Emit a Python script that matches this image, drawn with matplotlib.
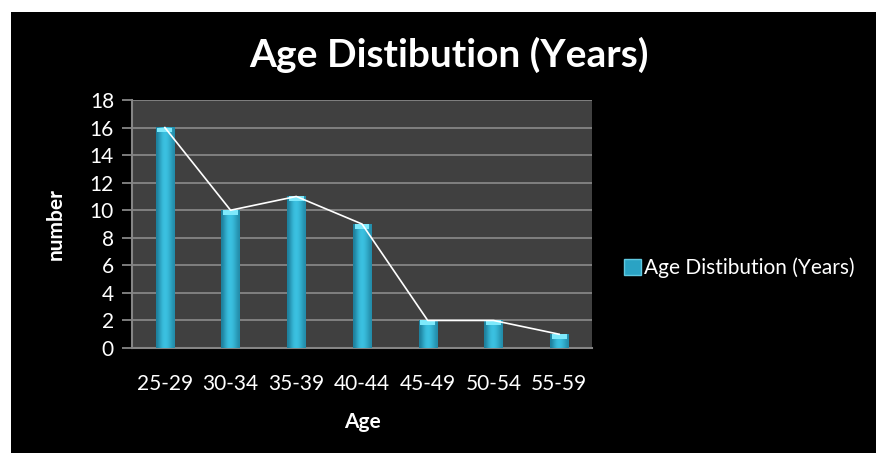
import numpy as np
import matplotlib.pyplot as plt
from matplotlib.colors import LinearSegmentedColormap
from matplotlib.patches import Rectangle, Patch

# Data
age_groups = ['25-29', '30-34', '35-39', '40-44', '45-49', '50-54', '55-59']
counts = [16, 10, 11, 9, 2, 2, 1]
y_ticks = [0, 2, 4, 6, 8, 10, 12, 14, 16, 18]

plt.rcParams['font.family'] = ['Lato', 'DejaVu Sans']

fig = plt.figure(figsize=(8.76, 4.53), dpi=100, facecolor='white')
# black chart area with thin white margin at top and left
fig.patches.append(Rectangle((11 / 876, 0), 1, 1 - 12 / 453,
                             transform=fig.transFigure, facecolor='black',
                             edgecolor='none', zorder=-10))

ax = fig.add_axes([132 / 876, 1 - 348 / 453, 460 / 876, 248 / 453])
ax.set_facecolor('#404040')

x = np.arange(len(age_groups))
bars = ax.bar(x, counts, width=0.28, color='#2aa3c4', zorder=3)

# horizontal gradient inside each bar, plus a light cap on top
cmap = LinearSegmentedColormap.from_list('c', ['#1d7f9c', '#3cc3e3'])
grad = np.array([[0.0, 0.5, 0.9, 1.0, 0.85, 0.55, 0.2]])
for b in bars:
    x0, w, h = b.get_x(), b.get_width(), b.get_height()
    ax.imshow(grad, extent=[x0, x0 + w, 0, h], aspect='auto', cmap=cmap,
              zorder=3.5, interpolation='bicubic')
    ax.add_patch(Rectangle((x0 + w * 0.1, h - 0.35), w * 0.8, 0.35,
                           facecolor='#7ee9fb', edgecolor='none', zorder=4))

ax.plot(x, counts, color='white', linewidth=1.2, zorder=5)

ax.set_xlim(-0.5, len(age_groups) - 0.5)
ax.set_ylim(0, 18)
ax.set_yticks(y_ticks)
ax.set_xticks(x)
ax.set_xticklabels(age_groups)
ax.yaxis.grid(True, color='#858585', linewidth=1.3, zorder=0)
ax.set_axisbelow(True)

for side in ['top', 'right']:
    ax.spines[side].set_visible(False)
for side in ['left', 'bottom']:
    ax.spines[side].set_color('#858585')
    ax.spines[side].set_linewidth(1.5)

ax.tick_params(axis='y', colors='#858585', labelcolor='white', labelsize=15,
               length=7, width=1.3, pad=6)
ax.tick_params(axis='x', colors='white', labelsize=15, length=0, pad=19)

ax.set_xlabel('Age', color='white', fontsize=15, fontweight='bold', labelpad=13)
ax.set_ylabel('number', color='white', fontsize=15, fontweight='bold', labelpad=17)

fig.text(449 / 876, 1 - 55 / 453, 'Age Distibution (Years)', color='white',
         fontsize=28, fontweight='bold', ha='center', va='center')

handle = Patch(facecolor='#2aa3c4', edgecolor='#5fc8e0')
leg = fig.legend([handle], ['Age Distibution (Years)'], loc='center left',
                 bbox_to_anchor=(624 / 876, 1 - 268 / 453), frameon=False,
                 fontsize=15, handlelength=0.8, handleheight=0.8,
                 handletextpad=0.15, borderpad=0, borderaxespad=0,
                 labelcolor='white')

fig.savefig('out.png', dpi=100, facecolor=fig.get_facecolor())
